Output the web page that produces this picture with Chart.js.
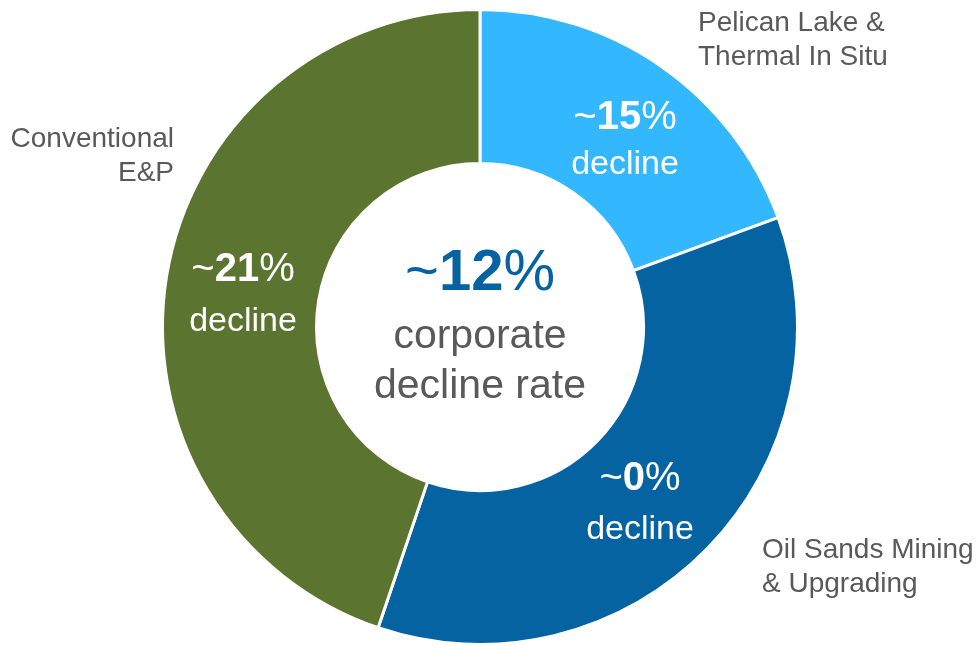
<!DOCTYPE html>
<html>
<head>
<meta charset="utf-8">
<script src="https://cdn.jsdelivr.net/npm/chart.js@4.4.0/dist/chart.umd.min.js"></script>
<style>
  html, body { margin: 0; padding: 0; background: #ffffff; }
  #wrap { width: 978px; height: 646px; position: relative; }
</style>
</head>
<body>
<div id="wrap"><canvas id="c" width="978" height="646"></canvas></div>
<script>
// ---- data ----
const categories = ["Pelican Lake & Thermal In Situ", "Oil Sands Mining & Upgrading", "Conventional E&P"];
const shares = [19.4, 35.8, 44.8];
const declineRates = ["15", "0", "21"];
const corporateRate = "12";
const colors = ["#33B7FF", "#0563A1", "#5B7531"];

const FONT = '"Liberation Sans", Arial, sans-serif';
const GRAY = "#595959";

// label placement (text only)
const segLabelPos = [[625, 118, 165], [640, 479, 530], [243, 270, 322]];
const outerLabels = [
  { lines: ["Pelican Lake &", "Thermal In Situ"], x: 698, y: 23, align: "left" },
  { lines: ["Oil Sands Mining", "& Upgrading"], x: 762, y: 550, align: "left" },
  { lines: ["Conventional", "E&P"], x: 174, y: 139, align: "right" }
];

function drawPct(ctx, num, cx, cy, size, color) {
  ctx.fillStyle = color;
  ctx.textBaseline = "middle";
  ctx.textAlign = "left";
  const reg = size + "px " + FONT;
  const bold = "bold " + size + "px " + FONT;
  ctx.font = reg; const w1 = ctx.measureText("~").width;
  ctx.font = bold; const w2 = ctx.measureText(num).width;
  ctx.font = reg; const w3 = ctx.measureText("%").width;
  let x = cx - (w1 + w2 + w3) / 2;
  ctx.font = reg; ctx.fillText("~", x, cy); x += w1;
  ctx.font = bold; ctx.fillText(num, x, cy); x += w2;
  ctx.font = reg; ctx.fillText("%", x, cy);
}

const textPlugin = {
  id: "texts",
  afterDraw(chart) {
    const ctx = chart.ctx;
    ctx.save();
    // segment labels
    declineRates.forEach((r, i) => {
      const p = segLabelPos[i];
      drawPct(ctx, r, p[0], p[1], 40, "#ffffff");
      ctx.font = "34px " + FONT;
      ctx.textAlign = "center";
      ctx.textBaseline = "middle";
      ctx.fillStyle = "#ffffff";
      ctx.fillText("decline", p[0], p[2]);
    });
    // center
    const meta = chart.getDatasetMeta(0).data[0];
    const cx = meta.x, cy = meta.y;
    drawPct(ctx, corporateRate, cx, cy - 53, 58, "#0563A1");
    ctx.font = "41px " + FONT;
    ctx.textAlign = "center";
    ctx.textBaseline = "middle";
    ctx.fillStyle = GRAY;
    ctx.fillText("corporate", cx, cy + 10);
    ctx.fillText("decline rate", cx, cy + 60);
    // outer labels
    ctx.font = "28px " + FONT;
    outerLabels.forEach(l => {
      ctx.textAlign = l.align;
      l.lines.forEach((t, j) => ctx.fillText(t, l.x, l.y + j * 34));
    });
    ctx.restore();
  }
};

new Chart(document.getElementById("c"), {
  type: "doughnut",
  data: {
    labels: categories,
    datasets: [{
      data: shares,
      backgroundColor: colors,
      borderColor: "#ffffff",
      borderWidth: 3,
      hoverOffset: 0
    }]
  },
  options: {
    responsive: false,
    animation: false,
    cutout: "51.5%",
    layout: { padding: { top: 8, bottom: 0, left: 161, right: 179 } },
    plugins: { legend: { display: false }, tooltip: { enabled: false } }
  },
  plugins: [textPlugin]
});
</script>
</body>
</html>
